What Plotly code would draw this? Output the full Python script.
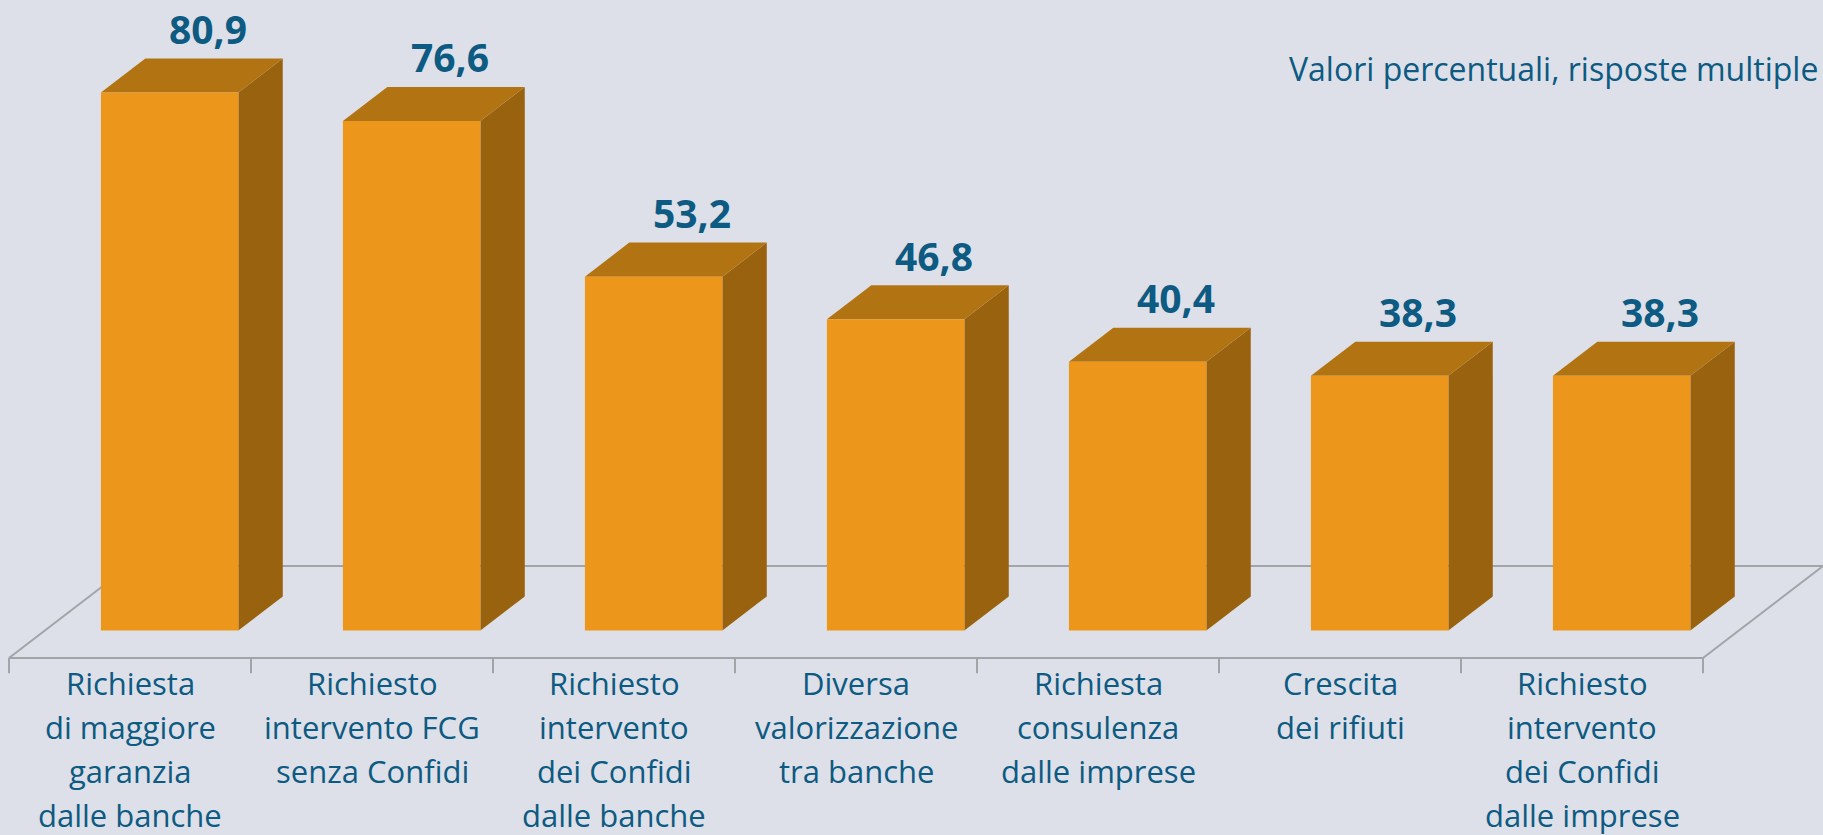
import plotly.graph_objects as go

# ---- data ----
categories = [
    ["Richiesta", "di maggiore", "garanzia", "dalle banche"],
    ["Richiesto", "intervento FCG", "senza Confidi"],
    ["Richiesto", "intervento", "dei Confidi", "dalle banche"],
    ["Diversa", "valorizzazione", "tra banche"],
    ["Richiesta", "consulenza", "dalle imprese"],
    ["Crescita", "dei rifiuti"],
    ["Richiesto", "intervento", "dei Confidi", "dalle imprese"],
]
values = [80.9, 76.6, 53.2, 46.8, 40.4, 38.3, 38.3]
value_labels = ["80,9", "76,6", "53,2", "46,8", "40,4", "38,3", "38,3"]
note = "Valori percentuali, risposte multiple"

# ---- style / projection ----
W, H = 1823, 835
FRONT = "#ec961b"
TOP = "#b27412"
SIDE = "#99620f"
TXT = "#0d5a82"
GRID = "#a2a4a8"
BG = "#dde0e8"

DX, DY = 0.496, 13.83          # full floor depth in data units
D0, D1 = 0.30, 0.67            # bar front/back depth fractions
BC, BH = 0.515, 0.284          # bar center offset and half width within category
n = len(values)

fig = go.Figure()

# floor outline
fx = [0, n, None, DX, n + DX, None, 0, DX, None, n, n + DX]
fy = [0, 0, None, DY, DY, None, 0, DY, None, 0, DY]
fig.add_trace(go.Scatter(x=fx, y=fy, mode="lines", line=dict(color=GRID, width=2),
                         hoverinfo="skip", showlegend=False))
# tick marks
tx, ty = [], []
for k in range(n + 1):
    tx += [k, k, None]
    ty += [0, -2.3, None]
fig.add_trace(go.Scatter(x=tx, y=ty, mode="lines", line=dict(color=GRID, width=2),
                         hoverinfo="skip", showlegend=False))

ddx = DX * (D1 - D0)
ddy = DY * (D1 - D0)
for i, v in enumerate(values):
    xl = i + BC - BH + DX * D0
    xr = i + BC + BH + DX * D0
    yb = DY * D0
    yt = yb + v
    # side face
    fig.add_trace(go.Scatter(x=[xr, xr, xr + ddx, xr + ddx, xr], y=[yb, yt, yt + ddy, yb + ddy, yb],
                             fill="toself", fillcolor=SIDE, mode="lines", line=dict(width=0),
                             hoverinfo="skip", showlegend=False))
    # top face
    fig.add_trace(go.Scatter(x=[xl, xr, xr + ddx, xl + ddx, xl], y=[yt, yt, yt + ddy, yt + ddy, yt],
                             fill="toself", fillcolor=TOP, mode="lines", line=dict(width=0),
                             hoverinfo="skip", showlegend=False))
    # front face
    fig.add_trace(go.Scatter(x=[xl, xr, xr, xl, xl], y=[yb, yb, yt, yt, yb],
                             fill="toself", fillcolor=FRONT, mode="lines", line=dict(width=0),
                             hoverinfo="skip", showlegend=False))
    # value label
    fig.add_annotation(x=i + BC + DX * D1 - 0.025, y=yt + ddy, text=value_labels[i],
                       showarrow=False, xanchor="center", yanchor="middle", yshift=30,
                       borderpad=0,
                       font=dict(family="Open Sans", size=39, color=TXT, weight="bold"))
    # category label lines
    for j, line in enumerate(categories[i]):
        fig.add_annotation(x=i + 0.5, y=0, text=line, showarrow=False, borderpad=0,
                           xanchor="center", yanchor="middle", yshift=-25 - 44 * j,
                           font=dict(family="Open Sans", size=31, color=TXT))

fig.add_annotation(x=1820 / W, y=1 - 69 / H, xref="paper", yref="paper", text=note,
                   showarrow=False, xanchor="right", yanchor="middle",
                   font=dict(family="Open Sans", size=32, color=TXT))

fig.update_layout(
    width=W, height=H,
    margin=dict(l=0, r=0, t=0, b=0),
    paper_bgcolor=BG, plot_bgcolor=BG,
    xaxis=dict(range=[-9 / 242, (W - 9) / 242], visible=False, fixedrange=True),
    yaxis=dict(range=[-(H - 658) / 6.65, 658 / 6.65], visible=False, fixedrange=True),
    showlegend=False,
)
fig.write_html("out.html", config={"displayModeBar": False},
               post_script="document.body.style.margin='0';document.body.style.overflow='hidden';")
